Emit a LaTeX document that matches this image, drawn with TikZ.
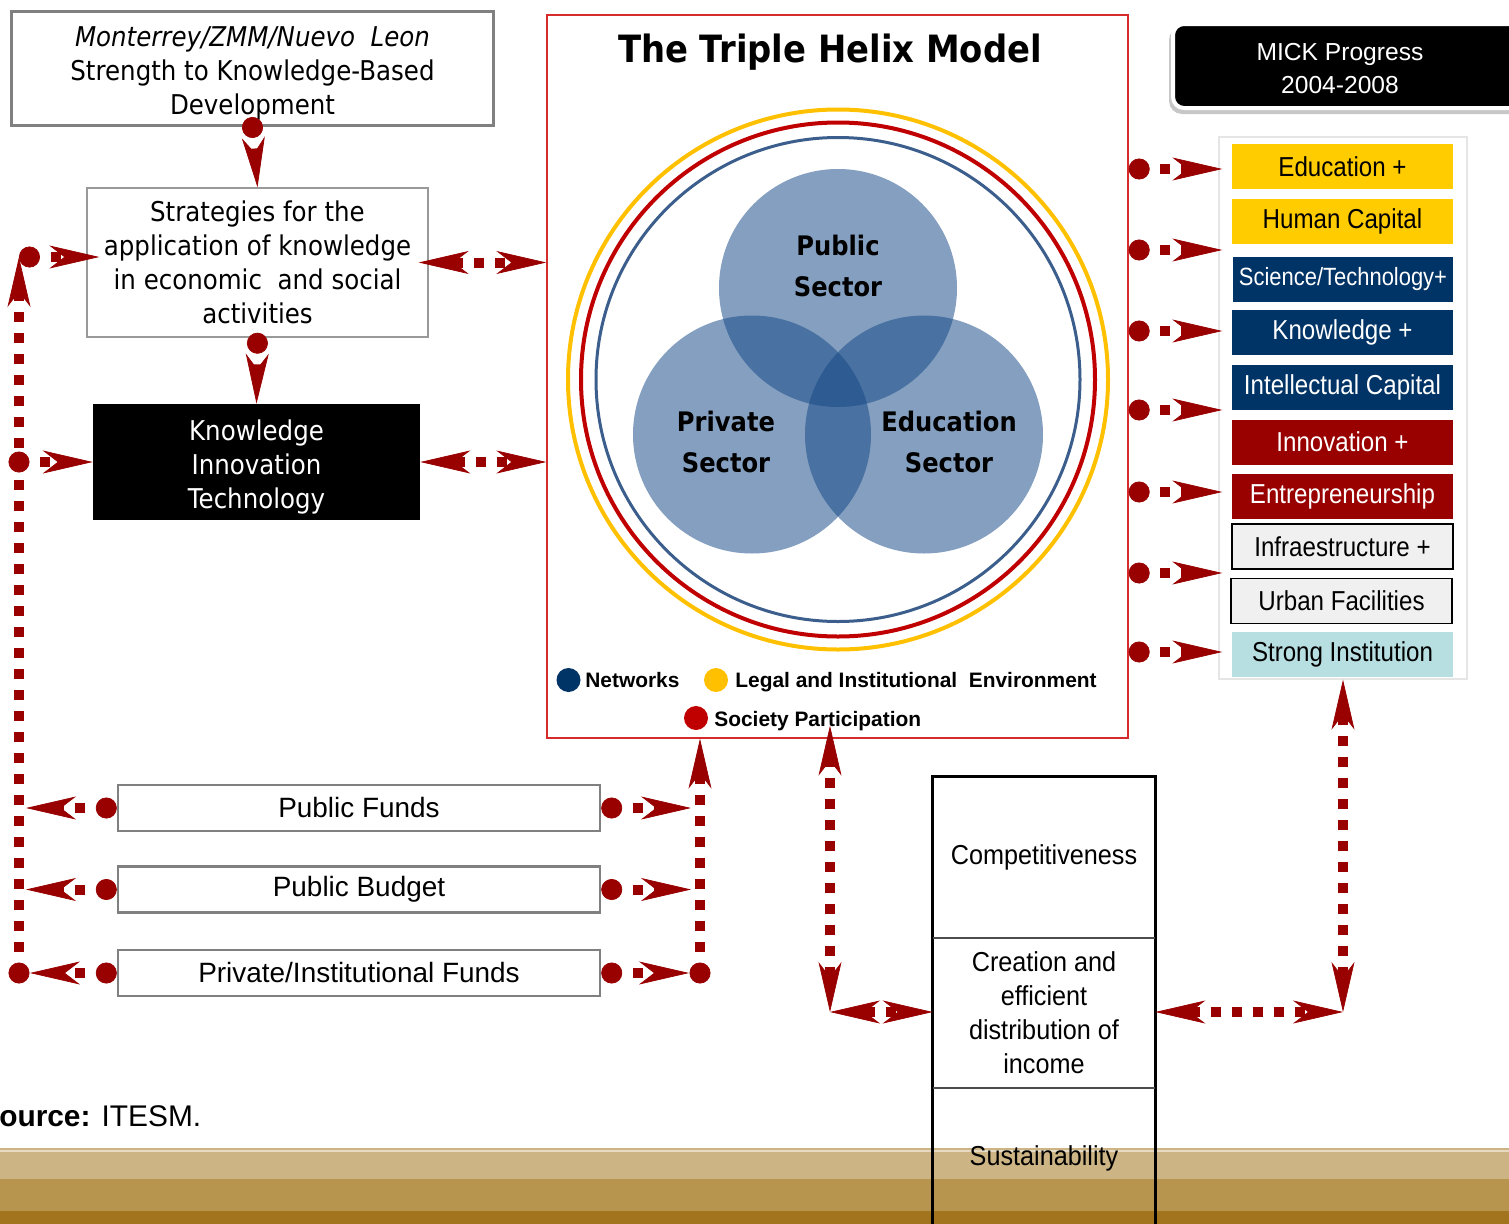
\documentclass[tikz,border=0pt]{standalone}
\usepackage{fontspec}
\setmainfont{Liberation Sans}
\newfontfamily\tahoma[FakeStretch=0.9]{DejaVu Sans}
\newfontfamily\narrowsf[FakeStretch=0.88]{Liberation Sans}
\newfontfamily\goalsf[FakeStretch=0.92]{Liberation Sans}
\usetikzlibrary{arrows.meta}

\definecolor{linkred}{HTML}{990000}
\definecolor{framered}{HTML}{D62B2B}
\definecolor{ringyellow}{HTML}{FFC000}
\definecolor{ringred}{HTML}{C00000}
\definecolor{ringblue}{HTML}{3B5E8C}
\definecolor{vennblue}{RGB}{19,71,133}
\definecolor{navy}{HTML}{003366}
\definecolor{gold}{HTML}{FFCC00}
\definecolor{itemgray}{HTML}{F0F0F0}
\definecolor{paleteal}{HTML}{B7DEE1}
\definecolor{bandlight}{HTML}{CDB484}
\definecolor{bandmid}{HTML}{B8954F}
\definecolor{banddark}{HTML}{A3741E}

\begin{document}
\begin{tikzpicture}[x=0.02cm, y=0.02cm]
\tikzset{every node/.append style={inner sep=0pt},
  link/.style={draw=linkred, line width=0.2cm, dash pattern=on 0.2cm off 0.22cm},
  dotlink/.style={link, dash phase=0.2cm, {Circle[length=0.42cm, line width=0.4pt]}-{Stealth[length=1cm, width=0.46cm, inset=0.3cm, line width=0.4pt]}},
  twolink/.style={link, {Stealth[length=1cm, width=0.46cm, inset=0.3cm, line width=0.4pt]}-{Stealth[length=1cm, width=0.46cm, inset=0.3cm, line width=0.4pt]}},
  bodytext/.style={align=center, font=\tahoma\fontsize{15.5}{19.3}\selectfont},
  citybox/.style={bodytext, draw=gray, line width=0.06cm, minimum width=9.66cm, minimum height=2.3cm},
  stratbox/.style={bodytext, draw=black!40, line width=0.03cm, minimum width=6.82cm, minimum height=2.98cm},
  kitbox/.style={bodytext, fill=black, text=white, minimum width=6.54cm, minimum height=2.32cm},
  helixbox/.style={draw=framered, line width=0.03cm, minimum width=11.62cm, minimum height=14.46cm},
  sector/.style={align=center, font=\tahoma\bfseries\fontsize{15.3}{23.8}\selectfont},
  legdot/.style={circle, minimum size=0.48cm},
  legtext/.style={anchor=base west, font=\bfseries\fontsize{11.9}{13}\selectfont},
  item/.style={minimum width=4.42cm, minimum height=0.9cm, font=\narrowsf\fontsize{15.6}{18}\selectfont},
  fundbox/.style={draw=gray, line width=0.05cm, minimum width=9.64cm, minimum height=0.92cm, font=\fontsize{15.9}{18}\selectfont},
  goal/.style={minimum width=4.44cm, align=center, font=\goalsf\fontsize{15.6}{19.3}\selectfont}
}
\useasboundingbox (0,0) rectangle (1509,-1224);

% ground band
\fill[bandlight] (0,-1148) rectangle (1509,-1179);
\fill[bandmid] (0,-1179) rectangle (1509,-1211);
\fill[banddark] (0,-1211) rectangle (1509,-1224);
\draw[bandlight!50!white, line width=0.04cm] (0,-1151) -- (1509,-1151);

% left side
\node[citybox] (city) at (252.5,-68.5) {\rule{0pt}{0.58cm}\textit{Monterrey/ZMM/Nuevo\ \ Leon}\\Strength to Knowledge-Based\\Development};
\node[stratbox] (strat) at (257.5,-262.5) {Strategies for the\\application of knowledge\\in economic\ \ and social\\activities};
\node[kitbox] (kit) at (256.5,-462) {\rule{0pt}{0.62cm}Knowledge\\Innovation\\Technology};

% triple helix
\node[helixbox] (helix) at (837.5,-376.5) {};
\node[font=\tahoma\bfseries\fontsize{21.4}{24}\selectfont] (title) at (830,-52) {The Triple Helix Model};
\draw[ringyellow, line width=0.08cm] (838,-379.5) circle (270);
\draw[ringred, line width=0.08cm] (838,-379.5) circle (257);
\draw[ringblue, line width=0.06cm] (838,-379.5) circle (242);
\fill[vennblue, fill opacity=0.52] (838,-288) circle (119);
\fill[vennblue, fill opacity=0.52] (752,-434.5) circle (119);
\fill[vennblue, fill opacity=0.52] (924,-434.5) circle (119);
\node[sector] (pub) at (838,-266) {Public\\Sector};
\node[sector] (priv) at (726,-442) {Private\\Sector};
\node[sector] (educ) at (949,-442) {Education\\Sector};
\node[legdot, fill=navy] (netdot) at (568.5,-680) {};
\node[legtext] (net) at (585,-687) {Networks};
\node[legdot, fill=ringyellow] (legaldot) at (716,-680) {};
\node[legtext] (legal) at (735,-687) {Legal and Institutional\ \ Environment};
\node[legdot, fill=ringred] (socdot) at (696,-718) {};
\node[legtext] (soc) at (714,-726) {Society Participation};

% MICK list
\fill[black!22, rounded corners=0.26cm] (1169,-27) rectangle (1545,-114);
\draw[white, line width=0.08cm, fill=black, rounded corners=0.22cm] (1173,-24) rectangle (1545,-108);
\node[text=white, align=center, font=\fontsize{14}{18.7}\selectfont] (mick) at (1340,-68.5) {MICK Progress\\2004-2008};
\node[draw=black!10, line width=0.03cm, minimum width=4.96cm, minimum height=10.84cm] (col) at (1343,-408) {};
\node[item, fill=gold] (edu) at (1342.5,-166.5) {Education +};
\node[item, fill=gold] (hum) at (1342.5,-221.5) {Human Capital};
\node[item, fill=navy, text=white, font=\narrowsf\fontsize{14.2}{18}\selectfont] (sci) at (1343,-279.5) {Science/Technology+};
\node[item, fill=navy, text=white] (know) at (1342.5,-332.5) {Knowledge +};
\node[item, fill=navy, text=white] (intel) at (1342.5,-387) {Intellectual Capital};
\node[item, fill=linkred, text=white] (innov) at (1342.5,-442) {Innovation +};
\node[item, fill=linkred, text=white] (entre) at (1342.5,-496.5) {Entrepreneurship};
\node[item, fill=itemgray, draw=black, line width=0.03cm] (infra) at (1342.5,-546.5) {Infraestructure +};
\node[item, fill=itemgray, draw=black, line width=0.03cm] (urban) at (1341.5,-601) {Urban Facilities};
\node[item, fill=paleteal] (strong) at (1342.5,-654.5) {Strong Institution};

% funds
\node[fundbox] (pf) at (359,-808) {Public Funds};
\node[fundbox] (pb) at (359,-889.5) {Public Budget};
\node[fundbox] (pif) at (359,-973) {Private/Institutional Funds};

% goals column
\node[goal, minimum height=3.22cm] (comp) at (1044,-857.5) {Competitiveness};
\node[goal, minimum height=3cm] (inc) at (1044,-1013) {Creation and\\efficient\\distribution of\\income};
\node[goal, minimum height=2.8cm] (sust) at (1044,-1158) {Sustainability};
\draw[line width=0.06cm] (comp.north west) rectangle (sust.south east);
\draw[black!70, line width=0.04cm] (comp.south west) -- (comp.south east);
\draw[black!70, line width=0.04cm] (inc.south west) -- (inc.south east);

\node[anchor=base west, font=\fontsize{17}{20}\selectfont] (src) at (-21,-1126) {\textbf{Source:} ITESM.};

% connectors
\coordinate (lt) at (19,-257);
\coordinate (lb) at (19,-973);
\coordinate (rb) at (700,-973);
\coordinate (mb) at (830,-1012);
\coordinate (rc) at (1343,-1012);
\draw[dotlink, shorten <=-0.21cm] (city.south) -- (strat.north);
\draw[dotlink, shorten <=-0.1cm] (strat.south) -- (kit.north);
\draw[twolink, shorten <=-0.2cm] (strat.east) -- (helix.west |- strat.east);
\draw[twolink] (kit.east) -- (helix.west |- kit.east);
\draw[dotlink, shorten <=-0.21cm] (lb) -- (lt);
\draw[dotlink, shorten >=-0.26cm] (lt) -- (lt -| strat.west);
\draw[dotlink, shorten <=-0.21cm] (lb |- kit.west) -- (kit.west);
\draw[dotlink, shorten >=0.14cm] (pf.west) -- (lb |- pf.west);
\draw[dotlink, shorten >=0.14cm] (pb.west) -- (lb |- pb.west);
\draw[dotlink, shorten >=0.22cm] (pif.west) -- (lb);
\draw[dotlink, shorten >=0.18cm] (pf.east) -- (rb |- pf.east);
\draw[dotlink, shorten >=0.18cm] (pb.east) -- (rb |- pb.east);
\draw[dotlink, shorten >=0.22cm] (pif.east) -- (rb);
\draw[dotlink, shorten <=-0.21cm] (rb) -- (rb |- helix.south);
\draw[twolink, shorten >=-0.26cm] (mb) -- (mb |- helix.south);
\draw[twolink] (mb) -- (inc.west |- mb);
\draw[twolink] (rc) -- (col.south);
\draw[twolink] (inc.east |- rc) -- (rc);
\foreach \y in {169,250,331,410,492,573,652} {
  \path (0,-\y) coordinate (ry);
  \draw[dotlink, shorten >=-0.08cm] (helix.east |- ry) -- (col.west |- ry);
}
\end{tikzpicture}
\end{document}
